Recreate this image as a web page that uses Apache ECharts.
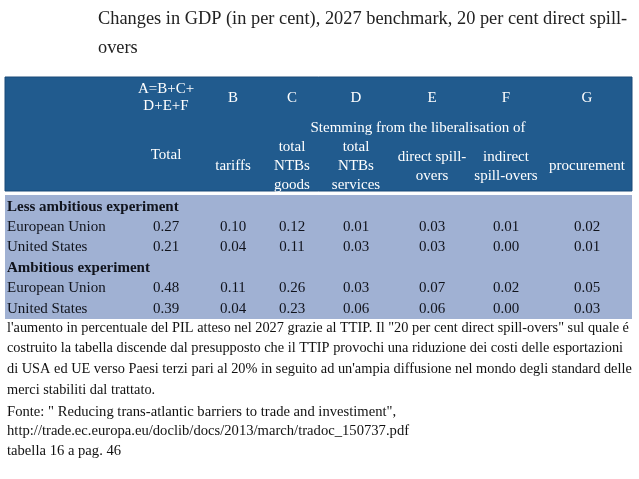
<!DOCTYPE html>
<html>
<head>
<meta charset="utf-8">
<script src="https://cdn.jsdelivr.net/npm/echarts@6.0.0/dist/echarts.min.js"></script>
<style>
  html, body { margin: 0; padding: 0; background: #fff; }
  #chart { width: 639px; height: 479px; }
</style>
</head>
<body>
<div id="chart"></div>
<script>
// --- data ---
const titleLines = ['Changes in GDP (in per cent), 2027 benchmark, 20 per cent direct spill-', 'overs'];
const colLetters = ['A=B+C+\nD+E+F', 'B', 'C', 'D', 'E', 'F', 'G'];
const colNames = ['Total', 'tariffs', 'total\nNTBs\ngoods', 'total\nNTBs\nservices', 'direct spill-\novers', 'indirect\nspill-overs', 'procurement'];
const spanLabel = 'Stemming from the liberalisation of';
const groups = ['Less ambitious experiment', 'Ambitious experiment'];
const countries = ['European Union', 'United States'];
const lessEU = [0.27, 0.10, 0.12, 0.01, 0.03, 0.01, 0.02];
const lessUS = [0.21, 0.04, 0.11, 0.03, 0.03, 0.00, 0.01];
const ambEU = [0.48, 0.11, 0.26, 0.03, 0.07, 0.02, 0.05];
const ambUS = [0.39, 0.04, 0.23, 0.06, 0.06, 0.00, 0.03];
const notes = [
  'l\'aumento in percentuale del PIL atteso nel 2027 grazie al TTIP. Il "20 per cent direct spill-overs" sul quale é',
  'costruito la tabella discende dal presupposto che il TTIP provochi una riduzione dei costi delle esportazioni',
  'di USA ed UE verso Paesi terzi pari al 20% in seguito ad un\'ampia diffusione nel mondo degli standard delle',
  'merci stabiliti dal trattato.'
];
const source = [
  'Fonte: " Reducing trans-atlantic barriers to trade and investiment",',
  'http://trade.ec.europa.eu/doclib/docs/2013/march/tradoc_150737.pdf',
  'tabella 16 a pag. 46'
];

// --- layout ---
const serif = '"Liberation Serif", "Times New Roman", serif';
const tableLeft = 5;
const colWidths = [127, 68, 66, 52, 76, 76, 72, 90];
const colCenters = [];
let acc = tableLeft;
colWidths.forEach(function (w) { colCenters.push(acc + w / 2); acc += w; });
const tableWidth = acc - tableLeft;

const chart = echarts.init(document.getElementById('chart'));

// body rows of the matrix
const rowKeys = [];
const cells = [];
const groupRows = [[lessEU, lessUS], [ambEU, ambUS]];
groups.forEach(function (g, gi) {
  rowKeys.push('g' + gi);
  cells.push({
    coord: [[0, colWidths.length - 1], rowKeys.length - 1],
    mergeCells: true,
    value: g,
    label: { position: 'insideLeft', align: 'left', fontWeight: 'bold', padding: [0, 0, 0, 2] }
  });
  groupRows[gi].forEach(function (vals, ci) {
    rowKeys.push('r' + gi + ci);
    const r = rowKeys.length - 1;
    cells.push({
      coord: [0, r],
      value: countries[ci],
      label: { position: 'insideLeft', align: 'left', padding: [0, 0, 0, 2] }
    });
    vals.forEach(function (v, k) {
      cells.push({ coord: [k + 1, r], value: v.toFixed(2) });
    });
  });
});

// header texts
const headerText = [];
colLetters.forEach(function (t, i) {
  headerText.push({
    type: 'text', x: colCenters[i + 1], y: i === 0 ? 98 : 98,
    style: { text: t, font: '15px ' + serif, fill: '#fff', textAlign: 'center', textVerticalAlign: 'middle', lineHeight: 17 }
  });
});
colNames.forEach(function (t, i) {
  headerText.push({
    type: 'text', x: colCenters[i + 1], y: i === 0 ? 155.5 : 166.5,
    style: { text: t, font: '15px ' + serif, fill: '#fff', textAlign: 'center', textVerticalAlign: 'middle', lineHeight: 19 }
  });
});
headerText.push({
  type: 'text', x: 418, y: 128.5,
  style: { text: spanLabel, font: '15px ' + serif, fill: '#fff', textAlign: 'center', textVerticalAlign: 'middle' }
});

const option = {
  backgroundColor: '#ffffff',
  matrix: {
    left: tableLeft, top: 196.5, width: tableWidth, height: 122.5,
    x: { show: false, data: colWidths.map(function (w, i) { return { value: 'c' + i, size: w }; }) },
    y: { show: false, data: rowKeys },
    backgroundStyle: { color: '#a0b1d3', borderWidth: 0 },
    body: {
      itemStyle: { color: 'transparent', borderWidth: 0 },
      label: { fontFamily: serif, fontSize: 15, color: '#10131c' },
      data: cells
    }
  },
  graphic: [
    {
      type: 'rect', shape: { x: tableLeft, y: 195, width: tableWidth, height: 2 },
      style: { fill: '#a0b1d3' }
    },
    {
      type: 'text', x: 98, y: 4.5, scaleX: 1.02,
      style: { text: titleLines.join('\n'), font: '18px ' + serif, fill: '#222', lineHeight: 29, textVerticalAlign: 'top' }
    },
    {
      type: 'rect', shape: { x: tableLeft, y: 77, width: tableWidth, height: 114 },
      style: { fill: '#215b8e', stroke: '#1a4b79', lineWidth: 1 }
    }
  ].concat(headerText).concat([
    {
      type: 'text', x: 7, y: 317.5, scaleX: 0.956,
      style: { text: notes.join('\n'), font: '15px ' + serif, fill: '#111', lineHeight: 20.7, textVerticalAlign: 'top' }
    },
    {
      type: 'text', x: 7, y: 402, scaleX: 0.975,
      style: { text: source.join('\n'), font: '15px ' + serif, fill: '#111', lineHeight: 19.5, textVerticalAlign: 'top' }
    }
  ])
};

chart.setOption(option);
</script>
</body>
</html>
